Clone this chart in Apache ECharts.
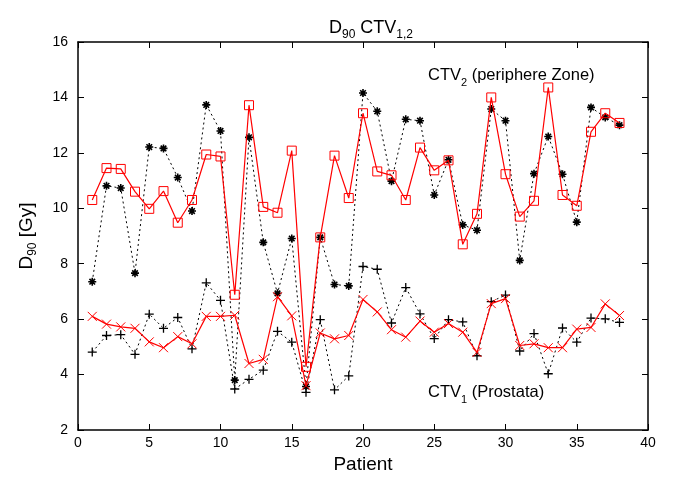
<!DOCTYPE html>
<html>
<head>
<meta charset="utf-8">
<script src="https://cdn.jsdelivr.net/npm/echarts@6/dist/echarts.min.js"></script>
<style>html,body{margin:0;padding:0;background:#fff}#c{width:675px;height:479px}</style>
</head>
<body>
<div id="c"></div>
<script>
const patients = [1,2,3,4,5,6,7,8,9,10,11,12,13,14,15,16,17,18,19,20,21,22,23,24,25,26,27,28,29,30,31,32,33,34,35,36,37,38];
const ctv2Red = [10.3,11.45,11.42,10.6,9.98,10.62,9.48,10.3,11.94,11.87,6.88,13.72,10.05,9.84,12.08,4.28,8.95,11.9,10.37,13.43,11.33,11.19,10.3,12.19,11.37,11.73,8.7,9.8,14.0,11.23,9.7,10.27,14.36,10.48,10.09,12.76,13.43,13.08];
const ctv2Black = [7.35,10.81,10.73,7.66,12.21,12.16,11.11,9.9,13.73,12.79,3.8,12.56,8.77,6.93,8.91,3.57,8.95,7.25,7.2,14.16,13.5,10.98,13.21,13.16,10.48,11.75,9.4,9.21,13.58,13.16,8.12,11.25,12.59,11.23,9.5,13.64,13.28,13.0];
const ctv1Red = [6.1,5.82,5.72,5.67,5.18,4.97,5.37,5.11,6.1,6.1,6.14,4.4,4.55,6.81,6.12,3.6,5.5,5.29,5.41,6.71,6.26,5.62,5.35,5.93,5.53,5.84,5.53,4.8,6.56,6.74,5.05,5.11,4.97,4.97,5.64,5.7,6.55,6.13];
const ctv1Black = [4.81,5.41,5.44,4.73,6.18,5.67,6.06,4.93,7.31,6.68,3.48,3.83,4.16,5.56,5.17,3.36,5.98,3.45,3.95,7.9,7.8,5.86,7.14,6.19,5.3,5.98,5.9,4.68,6.63,6.87,4.85,5.48,4.03,5.68,5.17,6.04,6.01,5.88];
const xTicks = {min:0, max:40, step:5};
const yTicks = {min:2, max:16, step:2};

const pair = arr => patients.map((p,i)=>[p,arr[i]]);
const FONT = '"Liberation Sans", Arial, sans-serif';
const chart = echarts.init(document.getElementById('c'), null, {renderer:'canvas'});

const axisCommon = {
  axisLine:{show:true, onZero:false, lineStyle:{color:'#000', width:1.5}},
  axisTick:{show:true, inside:true, length:6, lineStyle:{color:'#000', width:1}},
  splitLine:{show:false}
};
const annRich = {
  a:{fontFamily:FONT, fontSize:16.5, fill:'#000', verticalAlign:'bottom', lineHeight:20},
  s:{fontFamily:FONT, fontSize:11, fill:'#000', verticalAlign:'bottom', lineHeight:15, padding:[0,0,-4,0]}
};

chart.setOption({
  animation:false,
  backgroundColor:'#fff',
  title:{
    text:'{a|D}{s|90}{a| CTV}{s|1,2}',
    left:366, top:10, textAlign:'center',
    textStyle:{fontWeight:'normal', rich:{
      a:{fontFamily:FONT, fontSize:18, fontWeight:'normal', color:'#000', verticalAlign:'bottom', lineHeight:22},
      s:{fontFamily:FONT, fontSize:12, fontWeight:'normal', color:'#000', verticalAlign:'bottom', lineHeight:16, padding:[0,0,-4,0]}
    }}
  },
  grid:{left:78, right:27, top:42, bottom:44, containLabel:false},
  xAxis:[
    Object.assign({type:'value', position:'bottom', min:xTicks.min, max:xTicks.max, interval:xTicks.step,
      name:'Patient', nameLocation:'middle', nameGap:25,
      nameTextStyle:{fontFamily:FONT, fontSize:19, color:'#000'},
      axisLabel:{fontFamily:FONT, fontSize:14, color:'#000', margin:6}}, axisCommon),
    Object.assign({type:'value', position:'top', min:xTicks.min, max:xTicks.max, interval:xTicks.step,
      axisLabel:{show:false}}, axisCommon)
  ],
  yAxis:[
    Object.assign({type:'value', position:'left', min:yTicks.min, max:yTicks.max, interval:yTicks.step,
      name:'{a|D}{s|90}{a| [Gy]}', nameLocation:'middle', nameGap:42, nameRotate:90,
      nameTextStyle:{rich:{
        a:{fontFamily:FONT, fontSize:19, color:'#000', verticalAlign:'bottom', lineHeight:24},
        s:{fontFamily:FONT, fontSize:12, color:'#000', verticalAlign:'bottom', lineHeight:18, padding:[0,0,-3,0]}
      }},
      axisLabel:{fontFamily:FONT, fontSize:14, color:'#000', margin:10}}, axisCommon),
    Object.assign({type:'value', position:'right', min:yTicks.min, max:yTicks.max, interval:yTicks.step,
      axisLabel:{show:false}}, axisCommon)
  ],
  graphic:[
    {type:'text', left:428, top:67, style:{text:'{a|CTV}{s|2}{a| (periphere Zone)}', rich:annRich}},
    {type:'text', left:428, top:384, style:{text:'{a|CTV}{s|1}{a| (Prostata)}', rich:annRich}}
  ],
  series:[
    {type:'line', name:'CTV2 black', data:pair(ctv2Black), z:2,
      symbol:'path://M5,0L5,10M0,5L10,5M1.5,1.5L8.5,8.5M8.5,1.5L1.5,8.5', symbolSize:8,
      lineStyle:{color:'#000', width:1, type:[2,3]},
      itemStyle:{color:'none', borderColor:'#000', borderWidth:1.6}},
    {type:'line', name:'CTV1 black', data:pair(ctv1Black), z:2,
      symbol:'path://M5,0L5,10M0,5L10,5', symbolSize:9,
      lineStyle:{color:'#000', width:1, type:[2,3]},
      itemStyle:{color:'none', borderColor:'#000', borderWidth:1.3}},
    {type:'line', name:'CTV2 red', data:pair(ctv2Red), z:3,
      symbol:'rect', symbolSize:9,
      lineStyle:{color:'#ff0000', width:1.2},
      itemStyle:{color:'transparent', borderColor:'#ff0000', borderWidth:1}},
    {type:'line', name:'CTV1 red', data:pair(ctv1Red), z:3,
      symbol:'path://M0,0L10,10M10,0L0,10', symbolSize:9,
      lineStyle:{color:'#ff0000', width:1.2},
      itemStyle:{color:'none', borderColor:'#ff0000', borderWidth:1}}
  ]
});
</script>
</body>
</html>
